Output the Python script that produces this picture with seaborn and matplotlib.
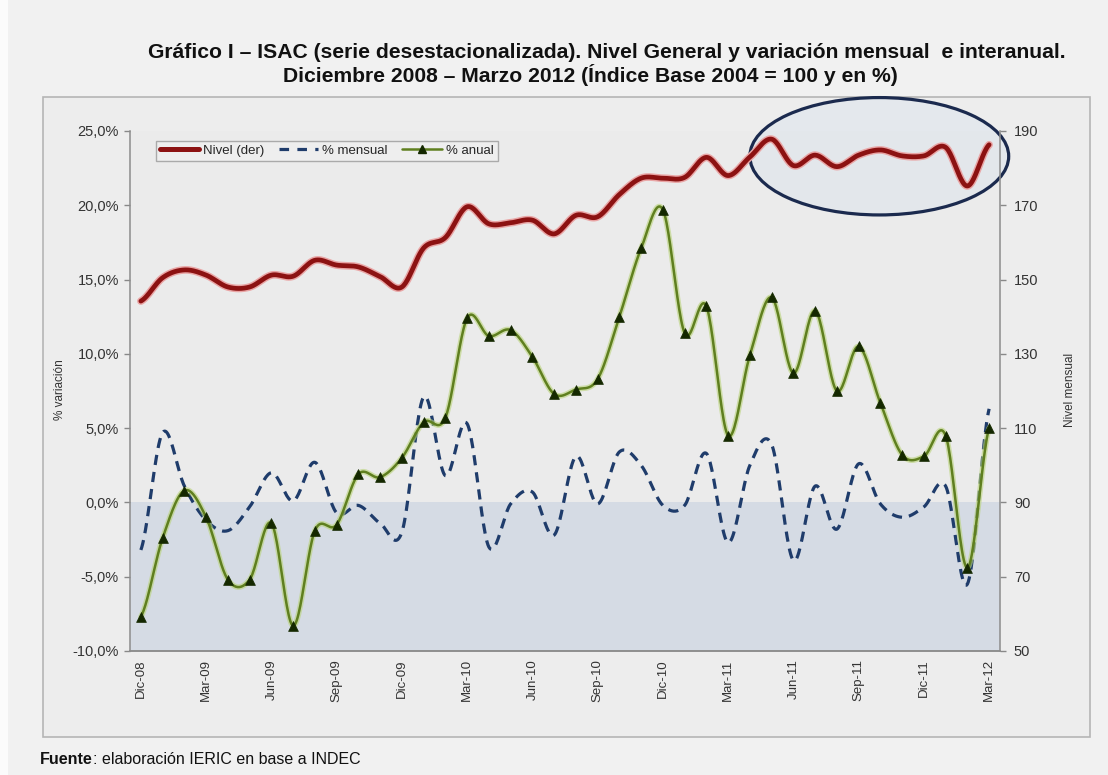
import numpy as np
import pandas as pd
import matplotlib
matplotlib.use("Agg")
import matplotlib.pyplot as plt
import seaborn as sns
from matplotlib.patches import Ellipse, Rectangle
from matplotlib.lines import Line2D

# ---------------- data ----------------
meses = ["Dic-08", "Ene-09", "Feb-09", "Mar-09", "Abr-09", "May-09", "Jun-09", "Jul-09",
         "Ago-09", "Sep-09", "Oct-09", "Nov-09", "Dic-09", "Ene-10", "Feb-10", "Mar-10",
         "Abr-10", "May-10", "Jun-10", "Jul-10", "Ago-10", "Sep-10", "Oct-10", "Nov-10",
         "Dic-10", "Ene-11", "Feb-11", "Mar-11", "Abr-11", "May-11", "Jun-11", "Jul-11",
         "Ago-11", "Sep-11", "Oct-11", "Nov-11", "Dic-11", "Ene-12", "Feb-12", "Mar-12"]

nivel = [144.2, 150.5, 152.6, 151.2, 148.0, 148.0, 151.2, 150.9, 155.2, 153.9,
         153.4, 150.8, 148.0, 158.5, 161.3, 169.6, 165.0, 165.3, 166.0, 162.3,
         167.3, 166.9, 172.9, 177.3, 177.3, 177.5, 182.9, 178.0, 183.0, 187.8,
         180.7, 183.5, 180.4, 183.5, 184.9, 183.3, 183.3, 185.6, 175.2, 186.3]

mensual = [-3.2, 4.7, 1.1, -1.2, -1.9, -0.3, 2.0, 0.1, 2.7, -0.7,
           -0.2, -1.4, -2.0, 7.1, 1.8, 5.3, -3.0, -0.1, 0.7, -2.2,
           3.1, -0.1, 3.4, 2.5, -0.2, -0.2, 3.3, -2.7, 2.5, 3.9,
           -3.9, 1.1, -1.8, 2.6, -0.1, -1.0, -0.3, 1.1, -5.5, 6.3]

anual = [-7.7, -2.4, 0.8, -1.0, -5.2, -5.2, -1.4, -8.3, -1.9, -1.5,
         1.9, 1.7, 3.0, 5.4, 5.7, 12.4, 11.2, 11.6, 9.8, 7.3,
         7.6, 8.3, 12.5, 17.1, 19.7, 11.4, 13.2, 4.5, 9.9, 13.8,
         8.7, 12.9, 7.5, 10.5, 6.7, 3.2, 3.1, 4.5, -4.4, 5.0]

x_labels = ["Dic-08", "Mar-09", "Jun-09", "Sep-09", "Dic-09", "Mar-10", "Jun-10",
            "Sep-10", "Dic-10", "Mar-11", "Jun-11", "Sep-11", "Dic-11", "Mar-12"]
y_left_ticks = [-10, -5, 0, 5, 10, 15, 20, 25]
y_right_ticks = [50, 70, 90, 110, 130, 150, 170, 190]

titulo1 = "Gráfico I – ISAC (serie desestacionalizada). Nivel General y variación mensual  e interanual."
titulo2 = "Diciembre 2008 – Marzo 2012 (Índice Base 2004 = 100 y en %)"

# ---------------- helpers ----------------
def smooth(vals, n=24):
    """Excel-like smoothed line (Catmull-Rom through the data points)."""
    y = np.asarray(vals, float)
    x = np.arange(len(y), dtype=float)
    p = np.concatenate([[y[0]], y, [y[-1]]])
    t = np.linspace(0, 1, n, endpoint=False)
    xs, ys = [], []
    for i in range(len(y) - 1):
        p0, p1, p2, p3 = p[i], p[i + 1], p[i + 2], p[i + 3]
        yy = 0.5 * (2 * p1 + (-p0 + p2) * t + (2 * p0 - 5 * p1 + 4 * p2 - p3) * t ** 2
                    + (-p0 + 3 * p1 - 3 * p2 + p3) * t ** 3)
        xs.append(x[i] + t)
        ys.append(yy)
    xs.append([x[-1]])
    ys.append([y[-1]])
    return np.concatenate(xs), np.concatenate(ys)

# ---------------- style ----------------
sns.set_theme(style="white")
plt.rcParams["font.family"] = ["Liberation Sans", "DejaVu Sans"]

W, H = 1108, 775
fig = plt.figure(figsize=(W / 100, H / 100), dpi=100, facecolor="#f1f1f1")

# page strip on the left and outer chart box (behind everything)
fig.patches.append(Rectangle((0, 0), 8 / W, 1, transform=fig.transFigure,
                             facecolor="#fbfbfb", edgecolor="none", zorder=-6))
fig.patches.append(Rectangle((43 / W, 1 - 737 / H), 1047 / W, 640 / H,
                             transform=fig.transFigure, facecolor="#ededed",
                             edgecolor="#b5b5b5", lw=1.2, zorder=-5))

ax = fig.add_axes([130 / W, 1 - 651 / H, 870 / W, 520 / H])
ax.set_facecolor("#ebebeb")
ax2 = ax.twinx()

idx = np.arange(len(meses))
df = pd.DataFrame({"i": idx, "nivel": nivel, "mensual": mensual, "anual": anual})

# shaded negative zone
ax.axhspan(-10, 0, color="#d5dbe4", zorder=0.5, lw=0)

# % mensual (dashed)
xm, ym = smooth(df["mensual"])
sns.lineplot(x=xm, y=ym, ax=ax, color="#1f3c6b", lw=2.3, linestyle=(0, (3.2, 2.2)),
             sort=False, estimator=None, zorder=3)

# % anual (green with triangles)
xa, ya = smooth(df["anual"])
sns.lineplot(x=xa, y=ya, ax=ax, color="#b9d37a", lw=4.0, sort=False, estimator=None,
             zorder=3, alpha=0.6)
sns.lineplot(x=xa, y=ya, ax=ax, color="#5f7f1f", lw=1.8, sort=False, estimator=None,
             zorder=4)
sns.scatterplot(data=df, x="i", y="anual", ax=ax, marker="^", s=50, color="#142800",
                edgecolor="#142800", linewidth=0.5, zorder=5)

# Nivel (right axis)
xn, yn = smooth(df["nivel"])
sns.lineplot(x=xn, y=yn, ax=ax2, color="#e9a5a5", lw=5.5, sort=False, estimator=None)
sns.lineplot(x=xn, y=yn, ax=ax2, color="#8c1212", lw=3.4, sort=False, estimator=None)

# axes limits & ticks
ax.set_xlim(-0.5, len(meses) - 0.5)
ax.set_ylim(-10, 25)
ax2.set_ylim(50, 190)

tick_pos = [meses.index(m) for m in x_labels]
ax.set_xticks(tick_pos)
ax.set_xticklabels(x_labels, rotation=90, fontsize=9.5, color="#333333")
ax.set_xticks(np.arange(-0.5, len(meses) - 0.5, 3), minor=True)
ax.tick_params(axis="x", which="major", length=0, pad=6)
ax.tick_params(axis="x", which="minor", length=4, color="#888888", width=1, direction="out")

ax.set_yticks(y_left_ticks)
ax.set_yticklabels([f"{v:.1f}%".replace(".", ",") for v in y_left_ticks],
                   fontsize=10.5, color="#333333")
ax.tick_params(axis="y", length=4, color="#888888", width=1, direction="out", left=True, pad=4)

ax2.set_yticks(y_right_ticks)
ax2.set_yticklabels([str(v) for v in y_right_ticks], fontsize=10.5, color="#333333")
ax2.tick_params(axis="y", length=4, color="#888888", width=1, direction="out", right=True, pad=6)

for a in (ax, ax2):
    a.set_xlabel("")
    a.set_ylabel("")
    a.spines["top"].set_visible(False)
    for s in ("left", "right", "bottom"):
        a.spines[s].set_color("#8c8c8c")
        a.spines[s].set_linewidth(1.1)
ax.spines["right"].set_visible(False)
ax2.spines["left"].set_visible(False)
ax2.grid(False)
ax.grid(False)

# highlight ellipse (annotation)
ell = Ellipse((33.95, 23.3), width=11.9, height=7.9, transform=ax.transData,
              facecolor=(0.84, 0.88, 0.93, 0.35), edgecolor="#1b2a4e", lw=2.3,
              clip_on=False, zorder=6)
ax.add_patch(ell)

# legend
handles = [Line2D([], [], color="#8c1212", lw=3.6),
           Line2D([], [], color="#1f3c6b", lw=2.3, linestyle=(0, (3.0, 2.6))),
           Line2D([], [], color="#5f7f1f", lw=1.8, marker="^", markersize=6,
                  markerfacecolor="#142800", markeredgecolor="#142800")]
leg = fig.legend(handles, ["Nivel (der)", "% mensual", "% anual"], loc="upper left",
                 bbox_to_anchor=(149 / W, 1 - 134 / H), ncol=3, fontsize=9.5,
                 frameon=True, fancybox=False, handlelength=3.0, handletextpad=0.3,
                 columnspacing=1.1, borderpad=0.3)
leg.get_frame().set_edgecolor("#9a9a9a")
leg.get_frame().set_facecolor("#f0f0f0")
leg.get_frame().set_linewidth(1.0)
leg.set_zorder(10)

# axis titles
fig.text(60 / W, 1 - 390 / H, "% variación", rotation=90, ha="center", va="center",
         fontsize=8.5, color="#333333")
fig.text(1070 / W, 1 - 390 / H, "Nivel mensual", rotation=90, ha="center", va="center",
         fontsize=8.5, color="#333333")

# titles
fig.text(607 / W, 1 - 52 / H, titulo1, ha="center", va="center", fontsize=15.2,
         weight="bold", color="#111111")
fig.text(590 / W, 1 - 75 / H, titulo2, ha="center", va="center", fontsize=15.2,
         weight="bold", color="#111111")

# source
t1 = fig.text(40 / W, 1 - 760 / H, "Fuente", ha="left", va="center", fontsize=11.5,
              weight="bold", color="#111111")
fig.canvas.draw()
bb = t1.get_window_extent()
fig.text(bb.x1 / W, 1 - 760 / H, ": elaboración IERIC en base a INDEC", ha="left",
         va="center", fontsize=11.5, color="#111111")

fig.savefig("out.png", dpi=100, facecolor=fig.get_facecolor())
